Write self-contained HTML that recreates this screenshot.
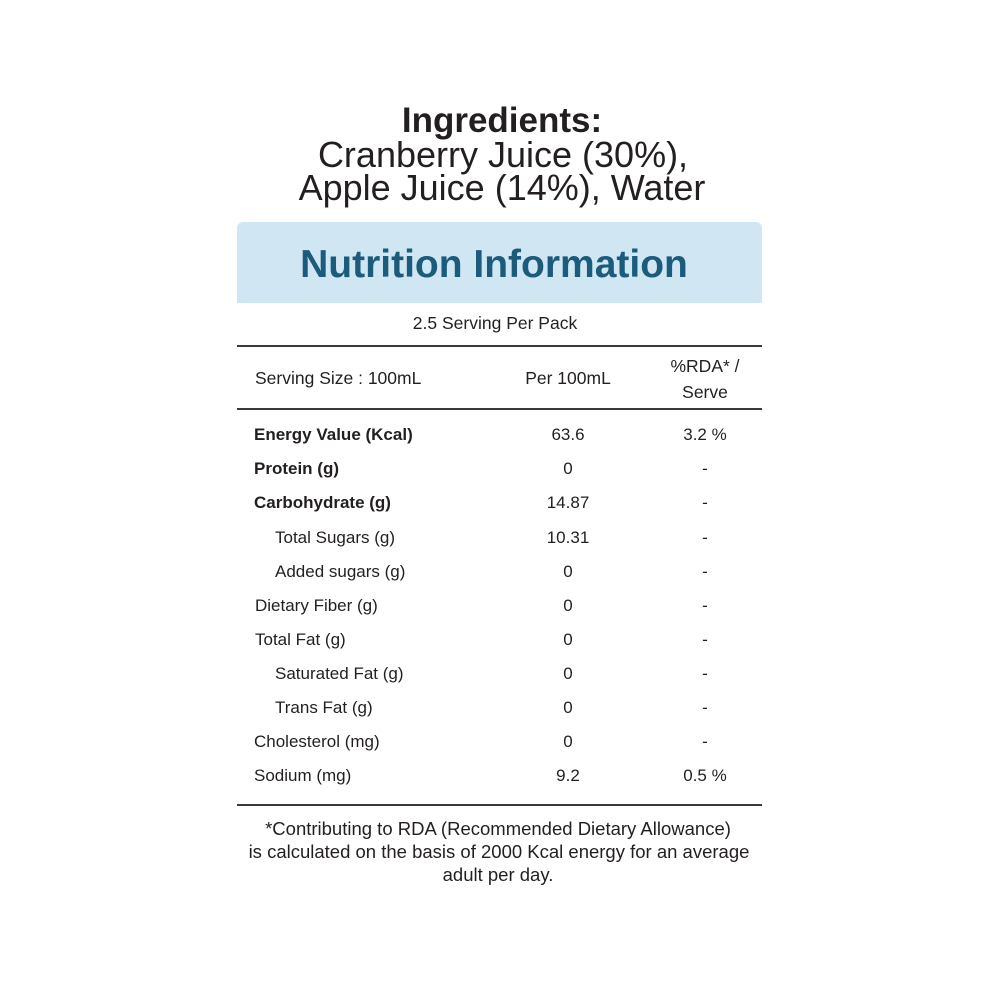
<!DOCTYPE html>
<html><head><meta charset="utf-8"><style>
body{margin:0;width:1000px;height:1000px;background:#fff;position:relative;font-family:"Liberation Sans",sans-serif;color:#231f20;overflow:hidden}
.t{position:absolute;white-space:nowrap;line-height:1}
.c{transform:translateX(-50%)}
.h{position:absolute;left:237px;width:525px;height:2px;background:#3a3a3a}
.b{font-weight:bold}
</style></head><body>
<div class="t c b" style="left:502px;top:103px;font-size:35px">Ingredients:</div>
<div class="t c" style="left:503px;top:137px;font-size:36px">Cranberry Juice (30%),</div>
<div class="t c" style="left:502px;top:170px;font-size:36px">Apple Juice (14%), Water</div>
<div style="position:absolute;left:237px;top:222px;width:525px;height:81px;background:#d0e6f3;border-radius:6px 6px 0 0"></div>
<div class="t c b" style="left:494px;top:245px;font-size:39px;color:#1b5b7b">Nutrition Information</div>
<div class="t c" style="left:495px;top:315px;font-size:17.5px">2.5 Serving Per Pack</div>
<div class="h" style="top:345px"></div>
<div class="t" style="left:255px;top:370px;font-size:17.5px">Serving Size : 100mL</div>
<div class="t c" style="left:568px;top:370px;font-size:17.5px">Per 100mL</div>
<div class="t c" style="left:705px;top:358px;font-size:17.5px">%RDA* /</div>
<div class="t c" style="left:705px;top:384px;font-size:17.5px">Serve</div>
<div class="h" style="top:408px"></div>
<div style="position:absolute;left:0;top:0;font-size:17px">
<div class="t b" style="left:254px;top:426px">Energy Value (Kcal)</div><div class="t c" style="left:568px;top:426px">63.6</div><div class="t c" style="left:705px;top:426px">3.2 %</div>
<div class="t b" style="left:254px;top:460px">Protein (g)</div><div class="t c" style="left:568px;top:460px">0</div><div class="t c" style="left:705px;top:460px">-</div>
<div class="t b" style="left:254px;top:494px">Carbohydrate (g)</div><div class="t c" style="left:568px;top:494px">14.87</div><div class="t c" style="left:705px;top:494px">-</div>
<div class="t" style="left:275px;top:529px">Total Sugars (g)</div><div class="t c" style="left:568px;top:529px">10.31</div><div class="t c" style="left:705px;top:529px">-</div>
<div class="t" style="left:275px;top:563px">Added sugars (g)</div><div class="t c" style="left:568px;top:563px">0</div><div class="t c" style="left:705px;top:563px">-</div>
<div class="t" style="left:255px;top:597px">Dietary Fiber (g)</div><div class="t c" style="left:568px;top:597px">0</div><div class="t c" style="left:705px;top:597px">-</div>
<div class="t" style="left:255px;top:631px">Total Fat (g)</div><div class="t c" style="left:568px;top:631px">0</div><div class="t c" style="left:705px;top:631px">-</div>
<div class="t" style="left:275px;top:665px">Saturated Fat (g)</div><div class="t c" style="left:568px;top:665px">0</div><div class="t c" style="left:705px;top:665px">-</div>
<div class="t" style="left:275px;top:699px">Trans Fat (g)</div><div class="t c" style="left:568px;top:699px">0</div><div class="t c" style="left:705px;top:699px">-</div>
<div class="t" style="left:254px;top:733px">Cholesterol (mg)</div><div class="t c" style="left:568px;top:733px">0</div><div class="t c" style="left:705px;top:733px">-</div>
<div class="t" style="left:254px;top:767px">Sodium (mg)</div><div class="t c" style="left:568px;top:767px">9.2</div><div class="t c" style="left:705px;top:767px">0.5 %</div>
</div>
<div class="h" style="top:804px"></div>
<div class="t c" style="left:498px;top:820px;font-size:18.5px">*Contributing to RDA (Recommended Dietary Allowance)</div>
<div class="t c" style="left:499px;top:843px;font-size:18.5px">is calculated on the basis of 2000 Kcal energy for an average</div>
<div class="t c" style="left:498px;top:866px;font-size:18.5px">adult per day.</div>
</body></html>
